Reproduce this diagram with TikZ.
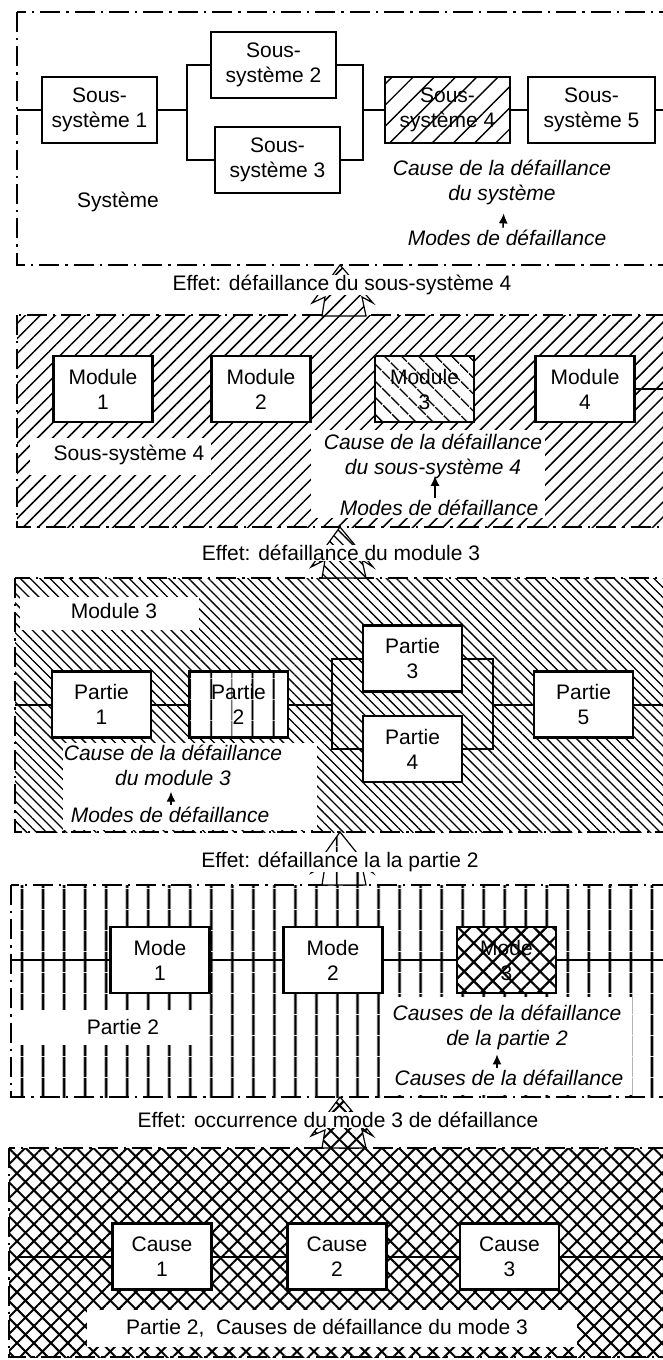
\documentclass[tikz,border=0pt]{standalone}
\usepackage{fontspec}
\setmainfont{Liberation Sans}
\usepackage{tikz}
\usetikzlibrary{positioning, arrows.meta, patterns.meta}

\begin{document}
\begin{tikzpicture}[
		x=0.5pt, y=-0.5pt,                 % 1 unité = 1 pixel de l'original
		>={Latex[length=5pt, width=4.5pt]},
		every node/.style={font=\fontsize{10.5}{12.5}\selectfont},
		bloc/.style={
			draw,
			line width=1.1pt,
			fill=white,
			align=center,
			inner sep=1pt,
			minimum width=49.5pt,
			minimum height=33pt},
		cadre/.style={line width=1.4pt, dash pattern=on 10pt off 3pt on 1.2pt off 3pt},
		liaison/.style={line width=1pt},
		cause/.style={font=\fontsize{10.5}{12.5}\selectfont\itshape, align=center, inner sep=1pt},
		effet/.style={fill=white, inner xsep=1pt, inner ysep=0pt},
		fleche/.style={line width=0.6pt, preaction={fill=white}},
		renvoi/.style={->, line width=0.7pt},
		% motifs
		hachNE/.style={pattern={Lines[angle=45, distance=5.3pt, line width=0.75pt]}},
		hachNEbloc/.style={pattern={Lines[angle=45, distance=7.5pt, line width=0.7pt]}},
		hachNO/.style={pattern={Lines[angle=-45, distance=3.5pt, line width=0.65pt]}},
		hachNObloc/.style={pattern={Lines[angle=-45, distance=6.4pt, line width=0.8pt]}},
		vertic/.style={pattern={Lines[angle=90, distance=10.5pt, line width=1.4pt]}},
		verticbloc/.style={pattern={Lines[angle=90, distance=10.5pt, line width=1.1pt]}},
		quadr/.style={pattern={Hatch[angle=45, distance=6pt, line width=1pt]}},
		quadrbloc/.style={pattern={Hatch[angle=45, distance=6.7pt, line width=1.1pt]}}
	]
	
	\useasboundingbox (0,0) rectangle (663,1360);
	
	% 0. Fonds des cadres
	\path[hachNE] (17,315) rectangle (680,527);
	\path[hachNO] (15,578) rectangle (680,832);
	\path[vertic] (11,885) rectangle (680,1097);
	\path[quadr] (9,1148) rectangle (680,1357);
	
	% zones blanches sous les textes
	\fill[white] (30,438) rectangle (211,475);
	\fill[white] (311,430) rectangle (545,518);
	\fill[white] (20,597) rectangle (199,630);
	\fill[white] (63,743) rectangle (317,830);
	\fill[white] (10,1010) rectangle (203,1045);
	\fill[white] (380,997) rectangle (632,1095);
	\fill[white] (87,1310) rectangle (577,1347);
	
	\draw[cadre] (17,12) rectangle (680,265);
	\draw[cadre] (17,315) rectangle (680,527);
	\draw[cadre] (15,578) rectangle (680,832);
	\draw[cadre] (11,885) rectangle (680,1097);
	\draw[cadre] (9,1148) rectangle (680,1357);
	
	% 1. Système
	\node[bloc, minimum width=57.5pt] (ss1) at (99.5,110) {Sous-\\système 1};
	\node[bloc, minimum width=62.5pt] (ss2) at (273.5,65) {Sous-\\système 2};
	\node[bloc, minimum width=62.5pt] (ss3) at (277.5,160) {Sous-\\système 3};
	\node[bloc, preaction={fill=white}, hachNEbloc, minimum width=62.5pt] (ss4) at (447.5,110) {Sous-\\système 4};
	\node[bloc, minimum width=63.5pt] (ss5) at (591.5,110) {Sous-\\système 5};
	\coordinate (e1) at (17,110);
	\coordinate (j1) at (187,110);
	\coordinate (j2) at (363,110);
	\coordinate (f1) at (663,110);
	
	\draw[liaison] (e1) -- (ss1) -- (j1);
	\draw[liaison] (ss2) -| (j1) |- (ss3);
	\draw[liaison] (ss2) -| (j2) |- (ss3);
	\draw[liaison] (j2) -- (ss4) -- (ss5) -- (f1);
	
	\node (sys) at (118,202) {Système};
	\node[cause] (cs1) at (502,182) {Cause de la défaillance\\du système};
	\node[cause] (md1) at (507,238) {Modes de défaillance};
	\draw[renvoi, shorten >=3.3pt] ([xshift=-2pt]md1.north) -- ([xshift=1pt]cs1.south);
	
	% 2. Sous-système 4
	\node[bloc] (mo1) at (103,389) {Module\\1};
	\node[bloc] (mo2) at (261,389) {Module\\2};
	\node[bloc, preaction={fill=white}, hachNObloc] (mo3) at (424.5,389) {Module\\3};
	\node[bloc] (mo4) at (585,389) {Module\\4};
	\coordinate (f2) at (663,389);
	\draw[liaison] (mo4) -- (f2);
	
	\node (ssy) at (129,455) {Sous-système 4};
	\node[cause] (cs2) at (433,456) {Cause de la défaillance\\du sous-système 4};
	\node[cause] (md2) at (439,508) {Modes de défaillance};
	\draw[renvoi, shorten >=-2.5pt] ([xshift=-2pt]md2.north) -- ([xshift=1pt]cs2.south);
	
	% 3. Module 3
	\node[bloc] (pa1) at (101.5,704.5) {Partie\\1};
	\node[bloc, preaction={fill=white}, verticbloc] (pa2) at (238.5,704.5) {Partie\\2};
	\node[bloc] (pa3) at (412.5,658.5) {Partie\\3};
	\node[bloc] (pa4) at (412.5,749) {Partie\\4};
	\node[bloc] (pa5) at (583.5,704.5) {Partie\\5};
	\coordinate (e3) at (15,704.5);
	\coordinate (j3) at (332,704.5);
	\coordinate (j4) at (493,704.5);
	\coordinate (f3) at (663,704.5);
	
	\draw[liaison] (e3) -- (pa1) -- (pa2) -- (j3);
	\draw[liaison] (pa3) -| (j3) |- (pa4);
	\draw[liaison] (pa3) -| (j4) |- (pa4);
	\draw[liaison] (j4) -- (pa5) -- (f3);
	
	\node (mod) at (114,611) {Module 3};
	\node[cause] (cs3) at (173,765) {Cause de la défaillance\\du module 3};
	\node[cause] (md3) at (170,815) {Modes de défaillance};
	\draw[renvoi, shorten >=2pt] ([xshift=0.5pt]md3.north) -- ([xshift=-1pt]cs3.south);
	
	% 4. Partie 2
	\node[bloc] (mf1) at (160,960) {Mode\\1};
	\node[bloc] (mf2) at (333,960) {Mode\\2};
	\node[bloc, preaction={fill=white}, quadrbloc] (mf3) at (506.5,960) {Mode\\3};
	\coordinate (e4) at (11,960);
	\coordinate (f4) at (663,960);
	\draw[liaison] (e4) -- (mf1) -- (mf2) -- (mf3) -- (f4);
	
	\node (par) at (123,1027) {Partie 2};
	\node[cause] (cs4) at (507,1027) {Causes de la défaillance\\de la partie 2};
	\node[cause] (md4) at (509,1078) {Causes de la défaillance};
	\draw[renvoi, shorten >=1.3pt] ([xshift=-6pt]md4.north) -- ([xshift=-5pt]cs4.south);
	
	% 5. Causes du mode 3
	\node[bloc] (ca1) at (162,1256.5) {Cause\\1};
	\node[bloc] (ca2) at (337,1256.5) {Cause\\2};
	\node[bloc] (ca3) at (509.5,1256.5) {Cause\\3};
	\coordinate (e5) at (17,1256.5);
	\coordinate (f5) at (663,1256.5);
	\draw[liaison] (e5) -- (ca1) -- (ca2) -- (ca3) -- (f5);
	
	\node (leg) at (327,1328) {Partie 2,~ Causes de défaillance du mode 3};
	
	% Effets (flèches vers le niveau supérieur)
	\draw[fleche, hachNE] (322,316) -- (325,297) -- (312,303) -- (340,265) -- (373,303) -- (362,297) -- (366,316) -- cycle;
	\draw[fleche, hachNO] (322,578) -- (325,560) -- (311,567) -- (340,527) -- (373,567) -- (362,560) -- (366,578) -- cycle;
	\draw[fleche, vertic] (322,885) -- (325,866) -- (311,873) -- (340,832) -- (373,873) -- (362,866) -- (366,885) -- cycle;
	\draw[fleche, quadr] (322,1148) -- (325,1130) -- (311,1136) -- (340,1097) -- (373,1136) -- (362,1130) -- (366,1148) -- cycle;
	
	\node[effet] (ef1) at (342,285) {Effet: défaillance du sous-système 4};
	\node[effet] (ef2) at (341,553) {Effet: défaillance du module 3};
	\node[effet] (ef3) at (340,862) {Effet: défaillance la la partie 2};
	\node[effet] (ef4) at (338,1120) {Effet: occurrence du mode 3 de défaillance};
	
\end{tikzpicture}
\end{document}
